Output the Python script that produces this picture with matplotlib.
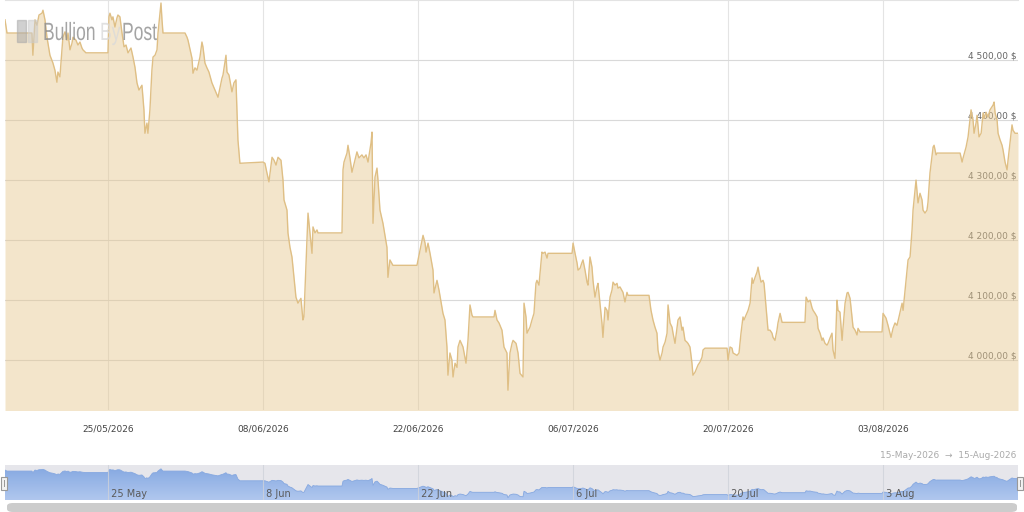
import datetime as dt
import numpy as np
import matplotlib
matplotlib.use('Agg')
import matplotlib.pyplot as plt
import matplotlib.dates as mdates
from matplotlib.patches import Rectangle, FancyBboxPatch, PathPatch
from matplotlib.textpath import TextPath
from matplotlib.font_manager import FontProperties
from matplotlib.transforms import Affine2D
from matplotlib.colors import LinearSegmentedColormap
from matplotlib.ticker import FuncFormatter

START = dt.datetime(2026, 5, 15)

# gold spot price (USD/oz), time as days since 15 May 2026 00:00
days = [
    0.70, 0.88, 3.13, 3.22, 3.41, 3.59, 3.77, 4.04, 4.13, 4.31, 4.49, 4.76, 5.03, 5.21,
    5.39, 5.48, 5.66, 5.84, 5.93, 6.12, 6.30, 6.39, 6.57, 6.75, 6.84, 7.11, 7.29, 7.47,
    7.65, 7.74, 8.01, 10.00, 10.09, 10.18, 10.36, 10.45, 10.63, 10.81, 10.90, 11.08,
    11.27, 11.45, 11.63, 11.81, 12.08, 12.26, 12.44, 12.62, 12.80, 13.07, 13.25, 13.34,
    13.52, 13.61, 13.79, 13.97, 14.07, 14.25, 14.43, 14.52, 14.70, 14.79, 14.88, 14.97,
    16.96, 17.14, 17.23, 17.59, 17.68, 17.86, 18.04, 18.31, 18.49, 18.58, 18.76, 18.94,
    19.12, 19.39, 19.67, 19.94, 20.30, 20.39, 20.66, 20.75, 20.93, 21.20, 21.38, 21.56,
    21.74, 21.92, 24.00, 24.18, 24.36, 24.54, 24.82, 25.00, 25.18, 25.36, 25.63, 25.81,
    25.90, 26.17, 26.26, 26.44, 26.62, 26.80, 26.98, 27.16, 27.43, 27.61, 27.70, 27.98,
    28.07, 28.25, 28.43, 28.52, 28.70, 28.88, 28.97, 31.14, 31.23, 31.32, 31.59, 31.68,
    31.86, 32.04, 32.31, 32.49, 32.67, 32.94, 33.12, 33.31, 33.49, 33.76, 33.85, 33.94,
    34.12, 34.30, 34.39, 34.57, 34.84, 35.20, 35.29, 35.47, 35.74, 37.91, 38.18, 38.37,
    38.46, 38.64, 38.73, 38.91, 39.09, 39.36, 39.45, 39.72, 39.90, 40.17, 40.26, 40.44,
    40.62, 40.71, 40.89, 41.07, 41.17, 41.35, 41.53, 41.62, 41.80, 42.07, 42.34, 42.52,
    42.70, 42.88, 42.97, 44.87, 44.96, 45.14, 45.32, 45.59, 45.77, 46.04, 46.13, 46.31,
    46.50, 46.59, 46.86, 47.04, 47.22, 47.49, 47.58, 47.76, 47.85, 48.12, 48.30, 48.48,
    48.66, 48.75, 48.93, 49.11, 49.20, 49.30, 49.48, 49.66, 49.75, 51.92, 52.01, 52.19,
    52.37, 52.46, 52.64, 52.82, 52.91, 53.09, 53.27, 53.36, 53.54, 53.72, 53.81, 53.99,
    54.17, 54.26, 54.44, 54.62, 54.71, 54.90, 55.08, 55.17, 55.35, 55.53, 55.62, 55.80,
    55.98, 56.07, 56.25, 56.52, 56.70, 56.88, 56.97, 58.87, 59.05, 59.23, 59.41, 59.59,
    59.68, 59.86, 60.05, 60.14, 60.32, 60.50, 60.59, 60.77, 60.95, 61.04, 61.22, 61.40,
    61.49, 61.67, 61.85, 61.94, 62.12, 62.30, 62.39, 62.57, 62.75, 62.84, 63.03, 63.21,
    63.30, 63.48, 63.66, 63.75, 63.93, 65.92, 66.01, 66.19, 66.37, 66.46, 66.82, 67.00,
    67.18, 67.36, 67.45, 67.64, 67.82, 68.00, 68.18, 68.27, 68.45, 68.63, 68.72, 68.81,
    68.99, 69.17, 69.26, 69.44, 69.62, 69.80, 69.98, 70.07, 70.25, 70.43, 70.52, 70.71,
    70.89, 72.96, 73.06, 73.24, 73.42, 73.60, 73.69, 73.87, 74.05, 74.14, 74.32, 74.50,
    74.59, 74.77, 74.95, 75.04, 75.22, 75.40, 75.49, 75.67, 75.85, 75.94, 76.12, 76.31,
    76.40, 76.58, 76.76, 76.85, 77.03, 77.21, 77.30, 77.48, 77.66, 77.75, 77.93, 79.92,
    80.01, 80.28, 80.46, 80.73, 80.91, 81.09, 81.27, 81.45, 81.73, 81.82, 82.00, 82.27,
    82.45, 82.63, 82.72, 82.99, 83.17, 83.35, 83.53, 83.62, 83.80, 83.98, 84.07, 84.25,
    84.53, 84.62, 84.80, 84.89, 86.97, 87.15, 87.24, 87.51, 87.69, 87.96, 88.14, 88.23,
    88.41, 88.50, 88.68, 88.87, 89.05, 89.14, 89.31, 89.49, 89.67, 89.95, 90.04, 90.13,
    90.31, 90.40, 90.58, 90.76, 90.85, 91.03, 91.21, 91.30, 91.48, 91.66, 91.75, 91.93,
    92.20,
]
prices = [
    4567, 4545, 4545, 4508, 4567, 4558, 4575, 4578, 4583, 4567, 4538, 4508, 4495, 4483,
    4463, 4480, 4472, 4517, 4538, 4547, 4533, 4545, 4517, 4528, 4538, 4533, 4525, 4530,
    4520, 4517, 4512, 4512, 4572, 4578, 4567, 4572, 4555, 4570, 4575, 4572,
    4545, 4522, 4525, 4512, 4520, 4505, 4488, 4462, 4450, 4458, 4417, 4378,
    4395, 4378, 4417, 4483, 4505, 4508, 4517, 4545, 4578, 4595, 4567, 4545,
    4545, 4538, 4533, 4503, 4478, 4487, 4483, 4505, 4530, 4522, 4495, 4487,
    4480, 4462, 4450, 4438, 4470, 4475, 4508, 4480, 4475, 4447, 4462, 4467,
    4367, 4328, 4330, 4328, 4312, 4297, 4338, 4333, 4325, 4338, 4333, 4300,
    4267, 4250, 4212, 4188, 4172, 4138, 4105, 4095, 4103, 4067, 4072, 4200,
    4245, 4212, 4178, 4222, 4212, 4217, 4212, 4212, 4317, 4330, 4345, 4358,
    4337, 4313, 4333, 4347, 4337, 4342, 4337, 4342, 4330, 4362, 4380, 4228,
    4305, 4320, 4300, 4250, 4228, 4188, 4138, 4167, 4158, 4158, 4183, 4200,
    4208, 4195, 4180, 4195, 4178, 4150, 4112, 4133, 4117, 4088, 4078, 4067,
    4022, 3975, 4012, 4000, 3972, 3995, 3988, 4022, 4033, 4022, 3995, 4033,
    4092, 4075, 4072, 4072, 4083, 4067, 4062, 4050, 4022, 4012, 3950, 4012,
    4028, 4033, 4028, 4012, 3978, 3972, 4095, 4072, 4045, 4055, 4067, 4078,
    4128, 4133, 4125, 4162, 4180, 4178, 4180, 4170, 4178, 4178, 4195, 4178,
    4162, 4150, 4153, 4163, 4167, 4150, 4130, 4125, 4172, 4155, 4133, 4105,
    4122, 4128, 4095, 4062, 4038, 4088, 4083, 4067, 4105, 4117, 4130, 4125,
    4128, 4120, 4122, 4113, 4097, 4113, 4108, 4108, 4083, 4067, 4055, 4045,
    4017, 4000, 4012, 4022, 4030, 4045, 4092, 4062, 4055, 4045, 4028, 4055,
    4067, 4072, 4050, 4055, 4033, 4030, 4028, 4022, 3995, 3975, 3980, 3988,
    3992, 3997, 4005, 4017, 4020, 4020, 4000, 4022, 4020, 4012, 4008, 4012,
    4045, 4072, 4067, 4075, 4083, 4095, 4137, 4128, 4138, 4147, 4155, 4145,
    4130, 4133, 4128, 4088, 4050, 4050, 4045, 4038, 4033, 4050, 4062, 4078,
    4063, 4063, 4105, 4097, 4100, 4087, 4083, 4078, 4072, 4053, 4045, 4033,
    4037, 4028, 4025, 4028, 4037, 4045, 4017, 4003, 4100, 4083, 4080, 4033,
    4055, 4095, 4112, 4113, 4103, 4072, 4055, 4050, 4042, 4053, 4047, 4047,
    4078, 4070, 4058, 4038, 4053, 4062, 4058, 4072, 4095, 4083, 4117, 4167,
    4172, 4217, 4250, 4300, 4262, 4278, 4267, 4250, 4245, 4250, 4263, 4312,
    4355, 4358, 4342, 4345, 4345, 4330, 4337, 4355, 4372, 4417, 4400, 4378,
    4395, 4408, 4372, 4378, 4412, 4403, 4413, 4405, 4417, 4425, 4430, 4412,
    4400, 4378, 4367, 4358, 4350, 4330, 4317, 4333, 4362, 4392, 4383, 4378,
    4378,
]

grid_dates = ['2026-05-25', '2026-06-08', '2026-06-22', '2026-07-06', '2026-07-20', '2026-08-03']
price_ticks = [4000, 4100, 4200, 4300, 4400, 4500]
range_from, range_to = '15-May-2026', '15-Aug-2026'

W, H = 1024, 512
times = [START + dt.timedelta(days=d) for d in days]
ticks = [dt.datetime.fromisoformat(s) for s in grid_dates]
x0 = mdates.date2num(times[0])
x1 = mdates.date2num(times[-1])

fig = plt.figure(figsize=(W / 100, H / 100), dpi=100)
fig.patch.set_facecolor('white')

# ---- main chart ----
ax = fig.add_axes([5 / W, 102 / H, 1013 / W, 410 / H])
ax.fill_between(times, prices, 3900, color='#e6c68c', alpha=0.45, linewidth=0, zorder=2)
ax.plot(times, prices, color='#dfbf85', linewidth=1.0, zorder=3)
ax.set_xlim(x0, x1)
ax.set_ylim(3917, 4600)

ax.set_xticks(ticks)
ax.xaxis.set_major_formatter(mdates.DateFormatter('%d/%m/%Y'))
ax.set_yticks(price_ticks)
ax.yaxis.set_major_formatter(FuncFormatter(
    lambda v, p: f'{int(v) // 1000} {int(v) % 1000:03d},00 $'))
ax.yaxis.tick_right()
ax.tick_params(axis='x', length=0, pad=10.5, labelsize=6.5, labelcolor='#444444')
ax.tick_params(axis='y', length=0, pad=-1, labelsize=6.5, labelcolor='#666666')
for lab in ax.get_yticklabels():
    lab.set_horizontalalignment('right')
    lab.set_verticalalignment('bottom')
ax.grid(True, axis='y', color='#d9d9d9', linewidth=0.8, zorder=1)
ax.grid(True, axis='x', color='#e4e4e4', linewidth=0.8, zorder=1)
ax.set_axisbelow(True)
for side in ['left', 'right', 'bottom']:
    ax.spines[side].set_visible(False)
ax.spines['top'].set_color('#e3e3e3')
ax.spines['top'].set_linewidth(0.8)

# watermark logo
fig.add_artist(Rectangle((17 / W, 1 - 42 / H), 9 / W, 22 / H, color='#aaaaaa', alpha=0.55))
fig.add_artist(Rectangle((28 / W, 1 - 42 / H), 9 / W, 22 / H, color='#cccccc', alpha=0.55))
logo_font = FontProperties(family='Liberation Sans')
for word, lx, col in [('Bullion', 43, '#8e8e8e'), ('By', 100, '#dadada'), ('Post', 122, '#8e8e8e')]:
    tp = TextPath((0, 0), word, size=25, prop=logo_font)
    fig.add_artist(PathPatch(tp, transform=Affine2D().scale(0.70, 1.0).translate(lx, H - 40),
                             facecolor=col, edgecolor='none', alpha=0.8))

# range label
fig.text(1016 / W, 1 - 455 / H, f'{range_from}  \u2192  {range_to}',
         ha='right', va='center', fontsize=6.5, color='#aaaaaa')

# ---- navigator ----
nav = fig.add_axes([5 / W, 12 / H, 1013 / W, 35 / H])
nav.set_facecolor('#e6e6eb')
nav_lo, nav_hi = 3900, 4680
area = nav.fill_between(times, prices, nav_lo - 50, facecolor='none', linewidth=0)
clip = PathPatch(area.get_paths()[0], transform=nav.transData, facecolor='none', edgecolor='none')
nav.add_patch(clip)
blues = LinearSegmentedColormap.from_list('nav', ['#b0c7ee', '#87aae2'])
grad = nav.imshow(np.linspace(0, 1, 64).reshape(-1, 1), cmap=blues, origin='lower',
                  extent=[x0, x1, nav_lo, 4600], aspect='auto', zorder=0.4)
grad.set_clip_path(clip)
nav.plot(times, prices, color='#86a8e0', linewidth=0.6, zorder=0.45)
nav.set_xlim(x0, x1)
nav.set_ylim(nav_lo, nav_hi)
nav.set_xticks(ticks)
nav.xaxis.set_major_formatter(FuncFormatter(
    lambda v, p: ' ' + f"{mdates.num2date(v).day} {mdates.num2date(v).strftime('%b')}"))
nav.tick_params(axis='x', length=0, pad=-8, labelsize=7, labelcolor='#5a5a5a')
for lab in nav.get_xticklabels():
    lab.set_horizontalalignment('left')
nav.set_yticks([])
nav.grid(True, axis='x', color='#cfd2da', linewidth=0.8, alpha=0.8)
nav.set_axisbelow(False)
for s in nav.spines.values():
    s.set_visible(False)

# navigator handles
for hx in [1, 1017]:
    fig.add_artist(Rectangle((hx / W, 1 - 490 / H), 6 / W, 13 / H,
                             facecolor='#f2f2f2', edgecolor='#999999', linewidth=0.8))
    fig.add_artist(Rectangle(((hx + 2.5) / W, 1 - 487 / H), 1 / W, 7 / H,
                             facecolor='#999999', linewidth=0))

# scrollbar
fig.add_artist(FancyBboxPatch((7 / W, 0 / H), 1010 / W, 9 / H,
                              boxstyle='round,pad=0,rounding_size=0.006',
                              facecolor='#cccccc', edgecolor='none'))

fig.savefig('out.png', dpi=100)
